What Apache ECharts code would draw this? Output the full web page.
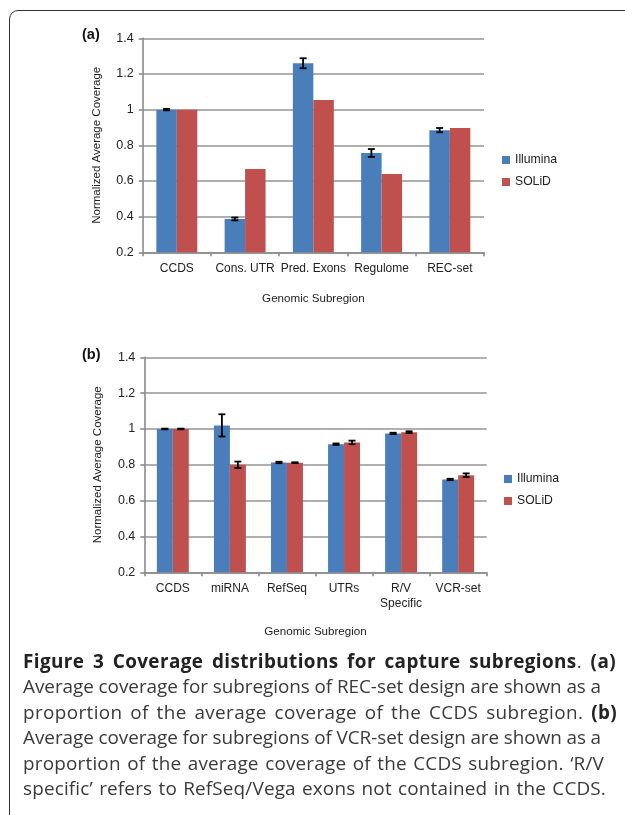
<!DOCTYPE html>
<html>
<head>
<meta charset="utf-8">
<script src="https://cdn.jsdelivr.net/npm/echarts@6/dist/echarts.min.js"></script>
<style>
  html, body { margin:0; padding:0; background:#fff; }
  #wrap { position:relative; width:625px; height:815px; overflow:hidden; }
  #frame { position:absolute; left:9px; top:10px; width:640px; height:840px; border:1.5px solid #333; border-radius:9px; box-sizing:border-box; }
  #chart { position:absolute; left:0; top:0; width:625px; height:650px; }
  #caption { position:absolute; left:23px; top:649px; font-family:"Open Sans", sans-serif; font-size:18.9px; line-height:25.4px; color:#3a3a3a; }
  #caption span.ln { display:inline-block; white-space:nowrap; }
  #caption b { color:#222; font-weight:700; }
</style>
</head>
<body>
<div id="wrap">
  <div id="frame"></div>
  <div id="chart"></div>
  <div id="caption">
    <span class="ln" data-w="593"><b>Figure 3 Coverage distributions for capture subregions</b>. <b>(a)</b></span><br>
    <span class="ln" data-w="578">Average coverage for subregions of REC-set design are shown as a</span><br>
    <span class="ln" data-w="594">proportion of the average coverage of the CCDS subregion. <b>(b)</b></span><br>
    <span class="ln" data-w="578">Average coverage for subregions of VCR-set design are shown as a</span><br>
    <span class="ln" data-w="581">proportion of the average coverage of the CCDS subregion. ‘R/V</span><br>
    <span class="ln" data-w="583">specific’ refers to RefSeq/Vega exons not contained in the CCDS.</span>
  </div>
</div>
<script>
// ---- data ----
const seriesNames = ['Illumina', 'SOLiD'];
const yTicks = ['0.2', '0.4', '0.6', '0.8', '1', '1.2', '1.4'];

const categoriesA = ['CCDS', 'Cons. UTR', 'Pred. Exons', 'Regulome', 'REC-set'];
const illuminaA = [1.0, 0.387, 1.26, 0.757, 0.885];
const illuminaErrA = [0.004, 0.008, 0.028, 0.022, 0.012];
const solidA = [1.0, 0.667, 1.054, 0.639, 0.897];

const categoriesB = ['CCDS', 'miRNA', 'RefSeq', 'UTRs', 'R/V\nSpecific', 'VCR-set'];
const illuminaB = [1.0, 1.02, 0.813, 0.915, 0.975, 0.718];
const illuminaErrB = [0.002, 0.062, 0.004, 0.004, 0.004, 0.004];
const solidB = [1.0, 0.80, 0.812, 0.925, 0.982, 0.742];
const solidErrB = [0.002, 0.018, 0.002, 0.01, 0.005, 0.01];

// ---- caption line fitting (spacing only) ----
document.querySelectorAll('#caption span.ln').forEach(function (el) {
  const target = parseFloat(el.dataset.w);
  const natural = el.getBoundingClientRect().width;
  const txt = el.textContent;
  const extra = target - natural;
  const nSp = (txt.match(/ /g) || []).length || 1;
  el.style.wordSpacing = (extra * 0.5 / nSp) + 'px';
  el.style.letterSpacing = (extra * 0.5 / txt.length) + 'px';
});

// ---- styling ----
const BLUE = '#4A7EBB', RED = '#C0504D';
const FONT = '"Liberation Sans", Arial, sans-serif';
const frac = { 0: 0.30, 1: 0.28 };

function errSeries(values, errs, gridIdx, sign) {
  return {
    type: 'custom',
    xAxisIndex: gridIdx, yAxisIndex: gridIdx,
    silent: true, z: 5,
    data: values.map((v, i) => [i, v, errs[i]]),
    encode: { x: 0, y: 1 },
    renderItem: function (params, api) {
      const i = api.value(0), v = api.value(1), e = api.value(2);
      const band = api.size([1, 0])[0];
      const cx = api.coord([i, v])[0] + sign * band * frac[gridIdx] / 2;
      const yHi = api.coord([i, v + e])[1];
      const yLo = api.coord([i, v - e])[1];
      const w = 3.5;
      const st = { stroke: '#000', lineWidth: 1.8 };
      return {
        type: 'group',
        children: [
          { type: 'line', shape: { x1: cx, y1: yHi, x2: cx, y2: yLo }, style: st },
          { type: 'line', shape: { x1: cx - w, y1: yHi, x2: cx + w, y2: yHi }, style: st },
          { type: 'line', shape: { x1: cx - w, y1: yLo, x2: cx + w, y2: yLo }, style: st }
        ]
      };
    }
  };
}

function xAxisCfg(cats, gridIdx, nameGap) {
  return {
    type: 'category', gridIndex: gridIdx, data: cats,
    name: 'Genomic Subregion', nameLocation: 'middle', nameGap: nameGap,
    nameTextStyle: { fontFamily: FONT, fontSize: 11.6, color: '#222' },
    axisLine: { lineStyle: { color: '#8a8a8a', width: 1.6 } },
    axisTick: { show: true, length: 4, lineStyle: { color: '#8a8a8a', width: 1.6 } },
    axisLabel: { interval: 0, margin: 9, fontFamily: FONT, fontSize: 12, color: '#222', lineHeight: 15 },
    splitLine: { show: false }
  };
}
function yAxisCfg(gridIdx) {
  return {
    type: 'value', gridIndex: gridIdx, min: 0.2, max: 1.4, interval: 0.2,
    name: 'Normalized Average Coverage', nameLocation: 'middle', nameGap: 40,
    nameTextStyle: { fontFamily: FONT, fontSize: 11.5, color: '#222' },
    axisLine: { show: true, lineStyle: { color: '#8a8a8a', width: 1.6 } },
    axisTick: { show: true, length: 4, lineStyle: { color: '#8a8a8a', width: 1.6 } },
    axisLabel: { margin: 9, fontFamily: FONT, fontSize: 12.5, color: '#222',
      formatter: v => yTicks.find(t => Math.abs(parseFloat(t) - v) < 1e-6) || '' },
    splitLine: { lineStyle: { color: '#959595', width: 1.7 } }
  };
}

function legendCfg(left, top) {
  return { data: seriesNames, orient: 'vertical', left: left, top: top, padding: 0,
    itemWidth: 8, itemHeight: 8, itemGap: 10, icon: 'rect',
    textStyle: { fontFamily: FONT, fontSize: 12.2, color: '#222' } };
}

const chart = echarts.init(document.getElementById('chart'), null, { renderer: 'canvas' });
chart.setOption({
  animation: false,
  backgroundColor: 'transparent',
  title: [
    { text: '(a)', left: 77, top: 22, textStyle: { fontFamily: FONT, fontSize: 14.5, fontWeight: 'bold', color: '#111' } },
    { text: '(b)', left: 77, top: 342, textStyle: { fontFamily: FONT, fontSize: 14.5, fontWeight: 'bold', color: '#111' } }
  ],
  grid: [
    { left: 142.7, top: 38.3, width: 341.3, height: 214 },
    { left: 144.3, top: 357.3, width: 342.4, height: 215 }
  ],
  legend: [legendCfg(502, 154), legendCfg(504, 473)],
  xAxis: [xAxisCfg(categoriesA, 0, 40), xAxisCfg(categoriesB, 1, 53)],
  yAxis: [yAxisCfg(0), yAxisCfg(1)],
  series: [
    { name: 'Illumina', type: 'bar', xAxisIndex: 0, yAxisIndex: 0, data: illuminaA, barWidth: '30%', barGap: '0%', itemStyle: { color: BLUE } },
    { name: 'SOLiD', type: 'bar', xAxisIndex: 0, yAxisIndex: 0, data: solidA, barWidth: '30%', barGap: '0%', itemStyle: { color: RED } },
    errSeries(illuminaA, illuminaErrA, 0, -1),
    { name: 'Illumina', type: 'bar', xAxisIndex: 1, yAxisIndex: 1, data: illuminaB, barWidth: '28%', barGap: '0%', itemStyle: { color: BLUE } },
    { name: 'SOLiD', type: 'bar', xAxisIndex: 1, yAxisIndex: 1, data: solidB, barWidth: '28%', barGap: '0%', itemStyle: { color: RED } },
    errSeries(illuminaB, illuminaErrB, 1, -1),
    errSeries(solidB, solidErrB, 1, 1)
  ]
});
</script>
</body>
</html>
